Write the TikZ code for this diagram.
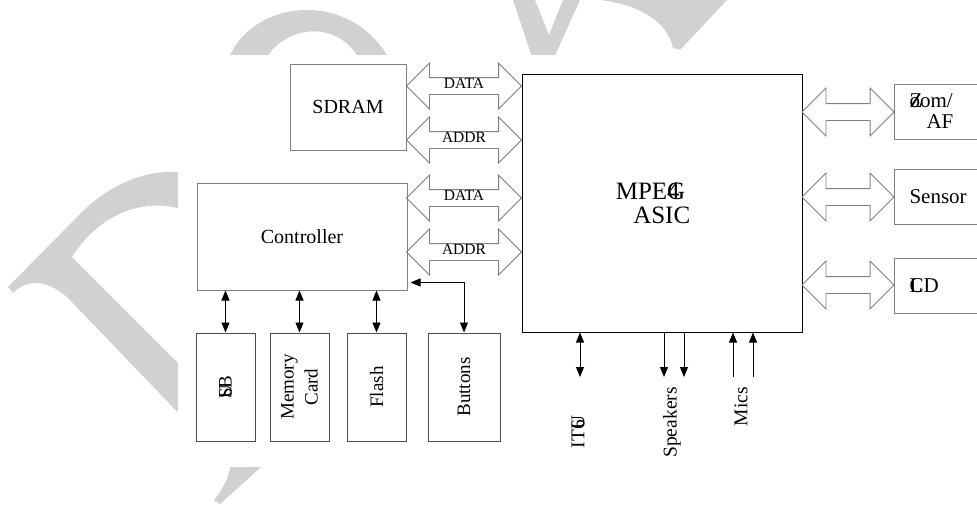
\documentclass[tikz,border=0pt]{standalone}
\usepackage{fontspec}
\setmainfont{Liberation Serif}
\usetikzlibrary{shapes.arrows,arrows.meta}

\definecolor{boxgray}{gray}{0.5}
\definecolor{darkgray}{gray}{0.3}
\definecolor{wmgray}{gray}{0.82}

\tikzset{
  box/.style={draw=boxgray, line width=1pt, inner sep=0pt},
  lowbox/.style={draw=darkgray, line width=1pt, inner sep=0pt, rotate=90,
    align=center, font=\fontsize{19}{24}\selectfont},
  bus/.style={double arrow, draw=boxgray, line width=0.9pt,
    double arrow head extend=14.5pt, double arrow tip angle=90,
    text height=10pt, text depth=6pt, inner ysep=0pt, inner xsep=0pt,
    font=\fontsize{15.5}{16}\selectfont},
  sig/.style={line width=0.9pt, -{Triangle[length=10pt,width=8pt]}},
  dsig/.style={line width=0.9pt, {Triangle[length=10pt,width=8pt]}-{Triangle[length=10pt,width=8pt]}},
  lbl/.style={rotate=90, inner sep=0pt, font=\fontsize{19.5}{24}\selectfont},
}

\begin{document}
\begin{tikzpicture}[x=1pt, y=-1pt]

  \clip (0,0) rectangle (977,504);

  % watermark
  \fill[wmgray] (230,55) .. controls (258,-2) and (348,-8) .. (387,55)
    -- (357,55) .. controls (335,22) and (290,25) .. (268,55) -- cycle;
  \fill[wmgray] (513,0) -- (535,0) -- (549,35) -- (563,0) -- (580,0)
    -- (553,60) -- (533,60) -- cycle;
  \fill[wmgray] (600,0) -- (727,0) -- (680,50) -- (673,48)
    .. controls (668,22) and (638,4) .. cycle;
  \fill[wmgray] (190,172) -- (178,172) .. controls (140,170) and (105,188) .. (78,216)
    -- (8,287) -- (13,293) .. controls (25,280) and (45,278) .. (67,297)
    -- (190,425) -- (190,375) -- (178,363) -- (72,257)
    .. controls (95,220) and (135,198) .. (178,208) -- (190,210) -- cycle;
  \fill[wmgray] (230,467) -- (261,467) -- (220,504) -- (214,500)
    .. controls (222,490) and (228,480) .. cycle;
  \fill[white] (178,55) rectangle (977,467);

  % main blocks
  \node[box, minimum width=116pt, minimum height=86pt, font=\fontsize{20}{22}\selectfont]
    (sdram) at (348,107) {SDRAM};
  \node[box, minimum width=210pt, minimum height=107pt, font=\fontsize{20}{22}\selectfont]
    (ctrl) at (302,236.5) {Controller};
  \node[box, draw=black, minimum width=280pt, minimum height=258pt]
    (asic) at (662,203) {};
  \node[align=left, inner sep=0pt, font=\fontsize{25}{24}\selectfont]
    (asictxt) at (653,203) {MPE\rlap{4}G\\\hspace*{0.7em}ASIC};

  % buses to the left
  \node[bus, minimum height=115pt] (sdata) at (464,86) {DATA};
  \node[bus, minimum height=115pt] (saddr) at (464,140) {ADDR};
  \node[bus, minimum height=115pt] (cdata) at (464,198) {DATA};
  \node[bus, minimum height=115pt] (caddr) at (464,252) {ADDR};

  % right side
  \node[box, anchor=west, minimum width=100pt, minimum height=55pt, text width=70pt,
    inner xsep=15pt, align=left, font=\fontsize{21}{21}\selectfont]
    (zoom) at (894,111.5) {\rlap{Z}oom/\\\hspace*{17pt}AF};
  \node[box, anchor=west, minimum width=100pt, minimum height=55pt, text width=70pt,
    inner xsep=15pt, align=left, font=\fontsize{21}{21}\selectfont]
    (sensor) at (894,196.5) {Sensor};
  \node[box, anchor=west, minimum width=100pt, minimum height=55pt, text width=70pt,
    inner xsep=15pt, align=left, font=\fontsize{21}{21}\selectfont]
    (lcd) at (894,285.5) {\rlap{L}CD};

  \node[bus, minimum height=92pt, double arrow head extend=15.5pt] (zbus) at (848,112) {};
  \node[bus, minimum height=92pt, double arrow head extend=15.5pt] (sbus) at (848,197) {};
  \node[bus, minimum height=92pt, double arrow head extend=15.5pt] (lbus) at (848,285) {};

  % boxes under the controller
  \node[lowbox, minimum width=108pt, minimum height=59pt] (usb) at (225.5,387) {\rlap{U}SB};
  \node[lowbox, minimum width=108pt, minimum height=59pt] (mem) at (299.5,387) {Memory\\Card};
  \node[lowbox, minimum width=108pt, minimum height=59pt] (flash) at (376.5,387) {Flash};
  \node[lowbox, minimum width=108pt, minimum height=72pt] (btn) at (464,387) {Buttons};

  \draw[dsig] (usb.east |- ctrl.south) -- (usb.east);
  \draw[dsig] (mem.east |- ctrl.south) -- (mem.east);
  \draw[dsig] (flash.east |- ctrl.south) -- (flash.east);
  \draw[dsig] (btn.east) |- ([xshift=3pt,yshift=8pt]ctrl.south east);

  % signals under the asic
  \coordinate (itu end) at (580,377);
  \coordinate (spk1) at (664,377);
  \coordinate (spk2) at (684,377);
  \coordinate (mic1) at (733,377);
  \coordinate (mic2) at (753,377);

  \draw[dsig] (asic.south -| itu end) -- (itu end);
  \draw[sig] (asic.south -| spk1) -- (spk1);
  \draw[sig] (asic.south -| spk2) -- (spk2);
  \draw[sig] (mic1) -- (asic.south -| mic1);
  \draw[sig] (mic2) -- (asic.south -| mic2);

  \node[lbl, anchor=east] (itu) at (578,420) {IT\rlap{U}6};
  \node[lbl, anchor=east] (spk) at (672,387) {Speakers};
  \node[lbl, anchor=east] (mics) at (741,387) {Mics};

\end{tikzpicture}
\end{document}
